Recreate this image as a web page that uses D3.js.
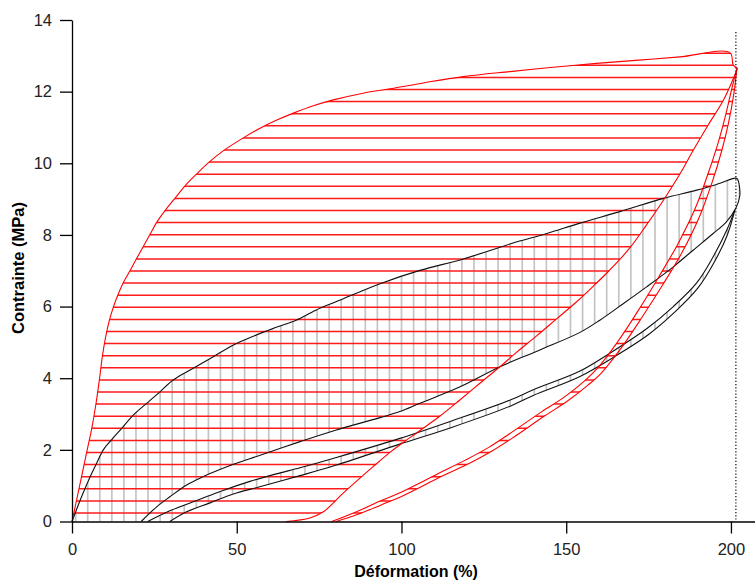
<!DOCTYPE html>
<html><head><meta charset="utf-8">
<script src="https://cdn.jsdelivr.net/npm/d3@7"></script>
<style>body{margin:0;background:#fff}svg{display:block}</style>
</head><body>
<svg id="chart" width="755" height="580"></svg>
<script>
// ---------- DATA ----------
const xTicks = [0, 50, 100, 150, 200];
const yTicks = [0, 2, 4, 6, 8, 10, 12, 14];
const xLabel = "Déformation (%)";
const yLabel = "Contrainte (MPa)";
const maxStrain = 201.5;

// red material, cycle 1 (load / unload)
const redLoad1 = [[0,0],[1.4,0.6],[2.9,1.25],[4.5,1.95],[6.0,2.6],[7.3,3.3],[8.3,3.95],[9.2,4.6],[10.2,5.15],[11.3,5.6],[12.6,6.0],[14.05,6.35],[15.6,6.67],[17.6,7.0],[19.6,7.34],[21.6,7.67],[23.7,8.02],[25.7,8.35],[28.4,8.7],[31.3,9.03],[34.3,9.37],[37.8,9.7],[41.7,10.04],[46.4,10.38],[52,10.71],[57.5,11.0],[62,11.2],[67.2,11.4],[73,11.6],[79.3,11.77],[88,11.95],[96.5,12.08],[107,12.25],[118.8,12.42],[132.9,12.56],[146,12.68],[159.2,12.79],[172,12.88],[184.5,12.97],[199.7,13.09],[200.7,12.74],[202,12.65]];
const redUnload1 = [[202,12.65],[200.7,12.36],[197.7,11.76],[193.1,11.07],[188.6,10.37],[184.5,9.7],[179.5,8.97],[174,8.23],[168.8,7.58],[163,7.0],[158,6.55],[153,6.12],[147,5.65],[141,5.18],[135,4.73],[129.9,4.32],[123.8,3.86],[117.8,3.4],[111.5,2.93],[105,2.5],[100,2.17],[96.5,1.93],[91.4,1.53],[87.4,1.21],[82.3,0.79],[76.3,0.27],[72.2,0.1],[65,0]];
// red material, cycle 2
const redLoad2 = [[78.8,0],[86,0.26],[93,0.55],[99,0.78],[111.2,1.34],[119.5,1.72],[126.5,2.07],[132.5,2.43],[142.5,3.06],[149.5,3.48],[155.5,3.92],[159.5,4.28],[165.5,5.0],[171.8,5.88],[177.9,6.8],[183.9,7.75],[189.2,8.75],[193.2,9.75],[196.2,10.6],[198.4,11.35],[200.3,12.1],[201.8,12.65]];
const redUnload2 = [[201.8,12.65],[200.9,11.95],[199.2,11.1],[197.2,10.35],[194.4,9.5],[190.4,8.5],[185.1,7.5],[179.1,6.58],[173,5.7],[166.5,4.82],[160.5,4.13],[156.5,3.8],[150.5,3.37],[143.5,2.95],[133.5,2.32],[127.5,1.97],[120.5,1.62],[112.2,1.26],[100,0.7],[94,0.47],[86.8,0.2],[80.2,0]];
// black material, cycle 1
const blackLoad1 = [[0,0],[2.9,0.69],[5.5,1.25],[7.5,1.63],[9.5,2.0],[12,2.28],[15.1,2.6],[18.6,2.97],[23.2,3.34],[26.7,3.62],[30.7,3.95],[36.8,4.28],[42.9,4.6],[49,4.93],[56,5.21],[62,5.42],[68,5.62],[74,5.9],[80.8,6.16],[93.5,6.64],[105.6,7.01],[118.8,7.33],[133.4,7.76],[144.1,8.04],[154.2,8.33],[166.3,8.65],[179.5,9.02],[189.6,9.25],[196.7,9.44],[201.7,9.58],[202.5,9.4]];
const blackUnload1 = [[202.5,9.4],[202.7,9.1],[201.5,8.75],[198.5,8.35],[194.6,8.04],[188.6,7.58],[182.5,7.11],[174.4,6.55],[167.3,6.08],[160.2,5.62],[154.2,5.28],[142,4.79],[129.9,4.32],[117.8,3.76],[105.6,3.3],[99.5,3.07],[93.5,2.9],[80,2.55],[69.2,2.23],[57.1,1.85],[49,1.6],[41.9,1.34],[38.8,1.21],[34.8,1.02],[29.7,0.69],[25.7,0.41],[21,0]];
// black material, cycle 2
const blackLoad2 = [[23,0],[29.7,0.3],[38.8,0.62],[45,0.84],[54,1.12],[62,1.33],[69.2,1.5],[80,1.78],[99.5,2.32],[115,2.8],[133,3.39],[140,3.68],[154.2,4.2],[164.3,4.76],[174.4,5.38],[182.5,6.0],[189.6,6.66],[194.6,7.39],[198.7,8.13],[201.2,8.7]];
const blackUnload2 = [[201.2,8.7],[198.9,8.0],[195,7.25],[190,6.52],[183,5.85],[175,5.22],[165,4.62],[154.2,4.05],[140,3.52],[133,3.22],[115,2.62],[99.5,2.16],[80,1.57],[69.2,1.28],[57,0.97],[49,0.77],[41.9,0.52],[34.8,0.27],[29.7,0]];

// ---------- CHART ----------
const svg = d3.select("#chart");
const x = d3.scaleLinear().domain([0, 207.3]).range([72, 755]);
const y = d3.scaleLinear().domain([0, 14]).range([521.5, 20]);
const line = d3.line().x(d => x(d[0])).y(d => y(d[1])).curve(d3.curveCatmullRom.alpha(0.5));

const defs = svg.append("defs");
function clip(id, a, b) {
  defs.append("clipPath").attr("id", id).append("path").attr("d", line(a.concat(b.slice(1))) + "Z");
}
clip("cRed1", redLoad1, redUnload1);
clip("cRed2", redLoad2, redUnload2);
clip("cBlk1", blackLoad1, blackUnload1);
clip("cBlk2", blackLoad2, blackUnload2);

// grey vertical hatching (black material)
const vStep = 12.07, vStart = 87.7 - vStep;
const vx = d3.range(vStart, x(205), vStep);
["cBlk1", "cBlk2"].forEach(id => {
  svg.append("g").attr("clip-path", `url(#${id})`)
    .selectAll("line").data(vx).join("line")
    .attr("x1", d => d).attr("x2", d => d)
    .attr("y1", y(14)).attr("y2", y(0))
    .attr("stroke", "#c4c4c4").attr("stroke-width", 1.7);
});
// red horizontal hatching (red material)
const hStep = 12.1, hStart = y(0) - 8.5;
const hy = d3.range(hStart, y(13.5), -hStep);
["cRed1", "cRed2"].forEach(id => {
  svg.append("g").attr("clip-path", `url(#${id})`)
    .selectAll("line").data(hy).join("line")
    .attr("y1", d => d).attr("y2", d => d)
    .attr("x1", x(0)).attr("x2", x(205))
    .attr("stroke", "#ff1a1a").attr("stroke-width", 1.5);
});

// curves
const curves = [
  [blackLoad1, "#111"], [blackUnload1, "#111"], [blackLoad2, "#111"], [blackUnload2, "#111"],
  [redLoad1, "#ff0000"], [redUnload1, "#ff0000"], [redLoad2, "#ff0000"], [redUnload2, "#ff0000"]
];
svg.append("g").selectAll("path").data(curves).join("path")
  .attr("d", d => line(d[0])).attr("fill", "none")
  .attr("stroke", d => d[1]).attr("stroke-width", 1.1);

// dotted max strain line
svg.append("line")
  .attr("x1", x(maxStrain)).attr("x2", x(maxStrain))
  .attr("y1", 32).attr("y2", y(0))
  .attr("stroke", "#000").attr("stroke-width", 1.2).attr("stroke-dasharray", "1.2,2");

// axes
const font = "'Liberation Sans', Arial, sans-serif";
const gx = svg.append("g").attr("transform", `translate(0,${y(0)})`);
gx.call(d3.axisBottom(x).tickValues(d3.range(0, 201, 10)).tickSize(6).tickSizeOuter(0).tickFormat(""));
gx.call(d3.axisBottom(x).tickValues(xTicks).tickSize(12).tickSizeOuter(0).tickPadding(10))
  .call(g => g.selectAll("text").attr("font-family", font).attr("font-size", 16.5).attr("fill", "#222"));
const gy = svg.append("g").attr("transform", `translate(${x(0)},0)`);
gy.call(d3.axisLeft(y).tickValues(d3.range(0, 14.01, 0.5)).tickSize(6).tickSizeOuter(0).tickFormat(""));
gy.call(d3.axisLeft(y).tickValues(yTicks).tickSize(12).tickSizeOuter(0).tickPadding(8))
  .call(g => g.selectAll("text").attr("font-family", font).attr("font-size", 16.5).attr("fill", "#222"));
svg.selectAll(".domain, .tick line").attr("stroke", "#000").attr("stroke-width", 1.3);

svg.append("text").attr("x", 416).attr("y", 577).attr("text-anchor", "middle")
  .attr("font-family", font).attr("font-weight", "bold").attr("font-size", 16).text(xLabel);
svg.append("text").attr("transform", "translate(24,268) rotate(-90)").attr("text-anchor", "middle")
  .attr("font-family", font).attr("font-weight", "bold").attr("font-size", 16.5).text(yLabel);
</script>
</body></html>
